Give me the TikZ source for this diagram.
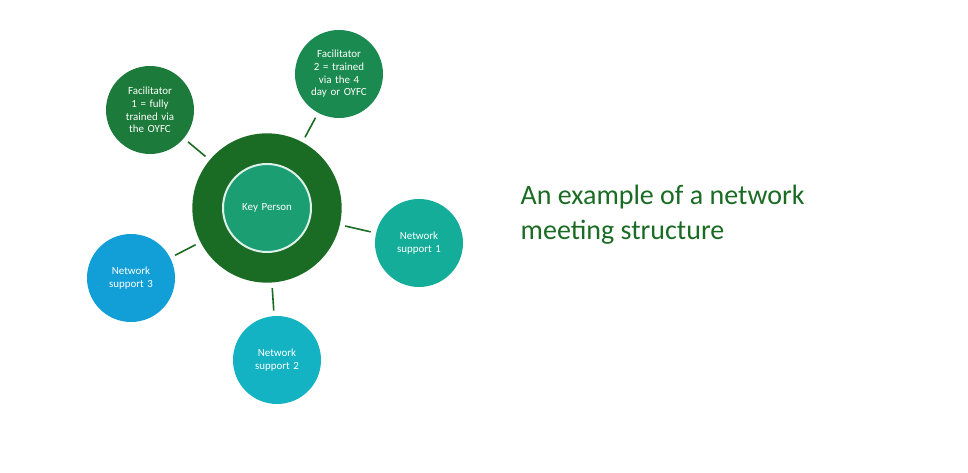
\documentclass[tikz,border=0pt]{standalone}
\usepackage{fontspec}
\setmainfont{Carlito}
\usepackage{xcolor}
\usetikzlibrary{calc, positioning}
\definecolor{hubgreen}{HTML}{1A6B24}
\definecolor{keygreen}{HTML}{1A9E72}
\definecolor{facone}{HTML}{1C7A3A}
\definecolor{factwo}{HTML}{1B8A50}
\definecolor{netone}{HTML}{14AD9A}
\definecolor{nettwo}{HTML}{14B3C4}
\definecolor{netthree}{HTML}{129FD8}
\begin{document}
\begin{tikzpicture}[x=0.75pt, y=-0.75pt, font=\fontsize{8.2}{9.5}\selectfont]
		\tikzstyle{spoke} = [circle, minimum size=66pt, text width=44pt, align=center, text=white, inner sep=0pt]
		\tikzstyle{link} = [draw=hubgreen, line width=1.2pt, shorten <=4pt, shorten >=4pt]
		\useasboundingbox (0,0) rectangle (968,473);
		
		\node[circle, fill=hubgreen, minimum size=112pt, inner sep=0pt]	at (267, 208)	(hub)	{};
		\node[spoke, fill=keygreen, draw=white!85!keygreen, line width=1.5pt, minimum size=66pt]	at (267, 208)	(key)	{Key Person};
		
		\node[spoke, fill=facone]	at (150, 110)	(fac1)	{Facilitator 1 = fully trained via the OYFC};
		\node[spoke, fill=factwo]	at (339, 74)	(fac2)	{Facilitator 2 = trained via the 4 day or OYFC};
		\node[spoke, fill=netone]	at (419, 243)	(net1)	{Network support 1};
		\node[spoke, fill=nettwo]	at (277, 360)	(net2)	{Network support 2};
		\node[spoke, fill=netthree]	at (131, 278)	(net3)	{Network support 3};
		
		\draw [link] (hub) -- (fac1);
		\draw [link] (hub) -- (fac2);
		\draw [link] (hub) -- (net1);
		\draw [link] (hub) -- (net2);
		\draw [link] (hub) -- (net3);
		
		\node[anchor=west, align=left, text=hubgreen, font=\fontsize{21}{26}\selectfont]	at (516, 215)	(title)	{An example of a network\\meeting structure};
	\end{tikzpicture}
\end{document}
